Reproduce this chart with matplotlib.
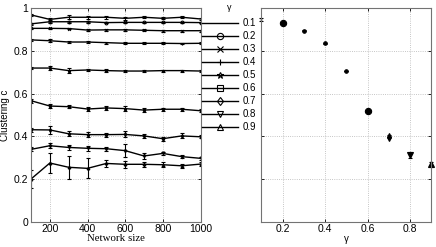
# clustering vs network size for several gamma values, plus mean clustering vs gamma
import matplotlib
matplotlib.use("Agg")
import matplotlib.pyplot as plt
import numpy as np

plt.rcParams['font.family'] = ['Liberation Sans', 'DejaVu Sans']
plt.rcParams['font.size'] = 7.5

# data
sizes = [100, 200, 300, 400, 500, 600, 700, 800, 900, 1000]
gammas = ['0.1', '0.2', '0.3', '0.4', '0.5', '0.6', '0.7', '0.8', '0.9']
markers = ['', 'o', 'x', '+', '*', 's', 'd', 'v', '^']

clust = [
    [0.969, 0.948, 0.958, 0.958, 0.958, 0.953, 0.958, 0.953, 0.958, 0.950],
    [0.927, 0.937, 0.937, 0.937, 0.933, 0.934, 0.934, 0.934, 0.934, 0.933],
    [0.906, 0.906, 0.905, 0.898, 0.899, 0.899, 0.897, 0.895, 0.895, 0.895],
    [0.852, 0.848, 0.842, 0.842, 0.839, 0.836, 0.836, 0.836, 0.835, 0.836],
    [0.720, 0.720, 0.708, 0.711, 0.708, 0.706, 0.706, 0.708, 0.708, 0.706],
    [0.567, 0.542, 0.539, 0.528, 0.533, 0.530, 0.523, 0.527, 0.527, 0.520],
    [0.431, 0.430, 0.412, 0.408, 0.408, 0.409, 0.402, 0.389, 0.402, 0.398],
    [0.339, 0.356, 0.348, 0.344, 0.342, 0.333, 0.308, 0.320, 0.305, 0.297],
    [0.200, 0.275, 0.255, 0.250, 0.273, 0.269, 0.269, 0.267, 0.262, 0.270],
]
errs = [
    [0.004, 0.005, 0.010, 0.008, 0.008, 0.008, 0.004, 0.005, 0.005, 0.005],
    [0.004, 0.004, 0.004, 0.004, 0.004, 0.004, 0.004, 0.004, 0.004, 0.004],
    [0.004, 0.004, 0.004, 0.004, 0.004, 0.004, 0.004, 0.004, 0.004, 0.004],
    [0.004, 0.006, 0.006, 0.006, 0.004, 0.004, 0.004, 0.004, 0.004, 0.004],
    [0.005, 0.008, 0.010, 0.006, 0.006, 0.005, 0.005, 0.005, 0.005, 0.005],
    [0.010, 0.010, 0.008, 0.008, 0.008, 0.012, 0.008, 0.008, 0.008, 0.008],
    [0.010, 0.020, 0.012, 0.012, 0.010, 0.014, 0.010, 0.010, 0.012, 0.008],
    [0.010, 0.012, 0.012, 0.012, 0.010, 0.030, 0.015, 0.008, 0.008, 0.008],
    [0.040, 0.048, 0.053, 0.047, 0.015, 0.015, 0.012, 0.012, 0.010, 0.010],
]

gamma_vals = [0.1, 0.2, 0.3, 0.4, 0.5, 0.6, 0.7, 0.8, 0.9]
mean_clust = [0.948, 0.932, 0.895, 0.836, 0.706, 0.519, 0.398, 0.313, 0.270]
mean_err = [0.006, 0.004, 0.002, 0.002, 0.002, 0.006, 0.006, 0.015, 0.012]
mean_marker = ['', 'o', 'o', 'o', 'o', 'o', 'd', 'v', '^']
mean_size = [0, 4.5, 2.5, 2.5, 2.5, 4.5, 4, 4.5, 4.5]

fig = plt.figure(figsize=(4.36, 2.47), dpi=100)
ax1 = fig.add_axes([0.0711, 0.1024, 0.3888, 0.864])
ax2 = fig.add_axes([0.5993, 0.1024, 0.3899, 0.864])

# left panel: one line per gamma
handles = []
for i in range(len(gammas)):
    ax1.errorbar(sizes, clust[i], yerr=errs[i], color='k', lw=1.0,
                 elinewidth=0.8, capsize=1.5, marker=markers[i] or None,
                 ms=2, mfc='none', mew=0.8)
    h, = ax1.plot([], [], color='k', lw=1.0, marker=markers[i] or None,
                  ms=4.5, mfc='none', mew=0.8)
    handles.append(h)

ax1.set_xlim(100, 1000)
ax1.set_ylim(0, 1)
ax1.set_xticks([200, 400, 600, 800, 1000])
ax1.set_yticks([0, 0.2, 0.4, 0.6, 0.8, 1])
ax1.set_yticklabels(['0', '0.2', '0.4', '0.6', '0.8', '1'])
ax1.set_xlabel('Network size', family='Liberation Serif', fontsize=7.8, labelpad=0)
ax1.set_ylabel('Clustering c', fontsize=7)
ax1.yaxis.set_label_coords(-0.125, 0.5)

# right panel: mean clustering per gamma
for i in range(len(gamma_vals)):
    ax2.errorbar(gamma_vals[i], mean_clust[i], yerr=mean_err[i], color='k',
                 marker=mean_marker[i] or None, ms=mean_size[i], mfc='k', mew=0.8,
                 elinewidth=1.0, capsize=1.5, clip_on=False)
ax2.set_xlim(0.1, 0.9)
ax2.set_ylim(0, 1)
ax2.set_xticks([0.2, 0.4, 0.6, 0.8])
ax2.set_yticks([0.2, 0.4, 0.6, 0.8])
ax2.set_yticklabels([])
ax2.set_xlabel('γ', fontsize=7, labelpad=0)

for ax in (ax1, ax2):
    ax.grid(True, linestyle=':', color='0.7', lw=0.6)
    ax.tick_params(direction='in', length=2, width=0.6, pad=2, colors='k')
    ax.tick_params(top=True, right=True)
    for s in ax.spines.values():
        s.set_color('0.45')
        s.set_linewidth(0.8)

# legend between the panels, title placed by hand
fig.text(229 / 436, 1 - 7.5 / 247, 'γ', ha='center', va='center', fontsize=6.5)
leg = fig.legend(handles, gammas, loc='upper left',
                 bbox_to_anchor=(202 / 436, 1 - 18 / 247), frameon=False,
                 fontsize=7, handlelength=3.7, handletextpad=0.5,
                 labelspacing=0.31, borderpad=0, borderaxespad=0)

fig.savefig('out.png', dpi=100)
